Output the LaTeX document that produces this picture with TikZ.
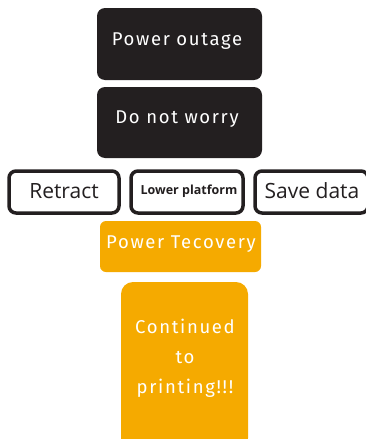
\documentclass[tikz,border=0pt]{standalone}
\usepackage{fontspec}
\setmainfont{Open Sans}
\newfontfamily\handfont[LetterSpace=9]{Fira Sans}
\definecolor{darkbox}{HTML}{231F20}
\definecolor{orangebox}{HTML}{F5AA00}
\begin{document}
\begin{tikzpicture}[x=1pt,y=-1pt,
  darkstep/.style={fill=darkbox,rounded corners=8pt},
  outlinestep/.style={draw=darkbox,line width=3.5pt,fill=white,rounded corners=7pt},
  orangestep/.style={fill=orangebox,rounded corners=6pt},
  handtext/.style={text=white,font=\handfont\fontsize{18.5}{30}\selectfont,align=center},
  rowtext/.style={text=darkbox,font=\fontsize{21}{24}\selectfont}]
\useasboundingbox (0,0) rectangle (366,439);
\begin{scope}
\clip (0,0) rectangle (366,439);
\path[darkstep] (97,8) rectangle (262,80);
\node[handtext] (outage) at (177,41) {Power outage};
\path[darkstep] (97,87) rectangle (262,158);
\node[handtext] (worry) at (177,119) {Do not worry};
\path[outlinestep] (9,171) rectangle (119,213);
\node[rowtext] (retract) at (64,191) {Retract};
\path[outlinestep] (131,171) rectangle (243,213);
\node[text=darkbox,font=\bfseries\fontsize{12.5}{14}\selectfont] (lower) at (189,191) {Lower platform};
\path[outlinestep] (255,171) rectangle (368,213);
\node[rowtext] (save) at (312,191) {Save data};
\path[orangestep] (100,221) rectangle (261,272);
\node[handtext] (recovery) at (181,244) {Power Tecovery};
\path[orangestep,rounded corners=12pt] (121,282) rectangle (248,450);
\node[handtext] (continued) at (185,358) {Continued\\to\\printing!!!};
\end{scope}
\end{tikzpicture}
\end{document}
